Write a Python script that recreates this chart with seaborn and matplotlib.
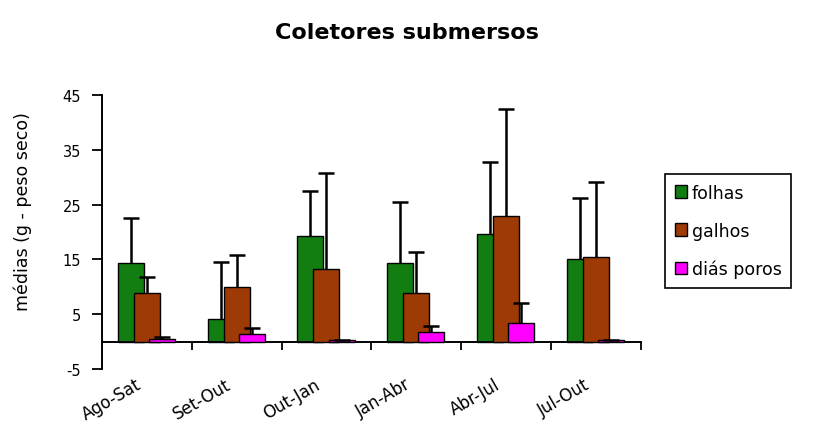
import numpy as np
import pandas as pd
import matplotlib
matplotlib.use("Agg")
import matplotlib.pyplot as plt
from matplotlib.patches import Patch
from matplotlib.transforms import ScaledTranslation
import seaborn as sns

categories = ["Ago-Sat", "Set-Out", "Out-Jan", "Jan-Abr", "Abr-Jul", "Jul-Out"]
series_names = ["folhas", "galhos", "diás poros"]
folhas = [14.3, 4.2, 19.2, 14.3, 19.6, 15.0]
folhas_err = [8.2, 10.4, 8.2, 11.1, 13.2, 11.2]
galhos = [8.8, 10.0, 13.3, 8.8, 22.9, 15.4]
galhos_err = [2.9, 5.8, 17.5, 7.5, 19.5, 13.7]
diasporos = [0.5, 1.3, 0.2, 1.7, 3.3, 0.2]
diasporos_err = [0.4, 1.2, 0.1, 1.2, 3.8, 0.1]
colors = ["#127e12", "#9e3a06", "#ff00ff"]
yticks = [-5, 5, 15, 25, 35, 45]

sns.set_theme(style="white")
plt.rcParams["font.family"] = ["DejaVu Sans"]
plt.rcParams["text.color"] = "black"
plt.rcParams["xtick.color"] = "black"
plt.rcParams["ytick.color"] = "black"

fig = plt.figure(figsize=(8.13, 4.27), dpi=100)
ax = fig.add_axes([0.1255, 0.1335, 0.6625, 0.642])

idx = np.arange(len(categories))
offsets = [-0.18, 0.0, 0.17]
vals = [folhas, galhos, diasporos]
errs = [folhas_err, galhos_err, diasporos_err]

for k in range(3):
    df = pd.DataFrame({"x": idx + offsets[k], "y": vals[k]})
    sns.barplot(data=df, x="x", y="y", native_scale=True, width=0.29,
                color=colors[k], saturation=1, edgecolor="black",
                linewidth=1.0, errorbar=None, ax=ax, zorder=2 + k)
for k in range(3):
    eb = ax.errorbar(idx + offsets[k], vals[k],
                     yerr=[np.zeros(len(idx)), errs[k]], fmt="none",
                     ecolor="black", elinewidth=1.8, capsize=5.5, capthick=1.8,
                     zorder=10)
    caps = eb[1]
    if len(caps) == 2:
        caps[0].set_visible(False)

ax.set_xlim(-0.5, 5.5)
ax.set_ylim(-5, 45)
ax.set_xlabel("")
ax.set_ylabel("")
ax.tick_params(axis="x", which="minor", length=0, pad=24, bottom=True)
ax.tick_params(axis="x", which="major", direction="out", length=6,
               width=1.3, color="black", bottom=True)
ax.tick_params(axis="y", direction="out", length=7, width=1.3,
               color="black", left=True, pad=8)
ax.set_yticks(yticks)
ax.set_yticklabels([str(t) for t in yticks], fontsize=10.5)
ax.set_xticks(idx + 0.5)
ax.set_xticklabels([])
ax.set_xticks(idx, categories, minor=True)

for s in ["top", "right"]:
    ax.spines[s].set_visible(False)
ax.spines["bottom"].set_position(("data", 0))
ax.spines["bottom"].set_color("black")
ax.spines["bottom"].set_linewidth(1.4)
ax.spines["left"].set_color("black")
ax.spines["left"].set_linewidth(1.4)

fig.text(0.5, 1 - 33 / 427, "Coletores submersos", ha="center", va="center",
         fontsize=16, fontweight="bold")
fig.text(23 / 813, 1 - 212 / 427, "médias (g - peso seco)", rotation=90,
         ha="center", va="center", fontsize=12.5)

handles = [Patch(facecolor=colors[k], edgecolor="black", linewidth=1)
           for k in range(3)]
leg = fig.legend(handles, series_names, loc="upper left",
                 bbox_to_anchor=(665 / 813, 1 - 175 / 427),
                 bbox_transform=fig.transFigure, fontsize=12.5,
                 handlelength=0.7, handleheight=0.7, handletextpad=0.3,
                 labelspacing=1.15, borderpad=0.55, borderaxespad=0,
                 fancybox=False, framealpha=1, edgecolor="black")
leg.get_frame().set_linewidth(1.2)

fig.canvas.draw()
shift = ScaledTranslation(-12 / 100, 0, fig.dpi_scale_trans)
for lab in ax.xaxis.get_ticklabels(minor=True):
    lab.set_fontsize(12)
    lab.set_rotation(30)
    lab.set_horizontalalignment("right")
    lab.set_verticalalignment("top")
    lab.set_rotation_mode("anchor")
    lab.set_transform(lab.get_transform() + shift)

fig.savefig("out.png", dpi=100)
